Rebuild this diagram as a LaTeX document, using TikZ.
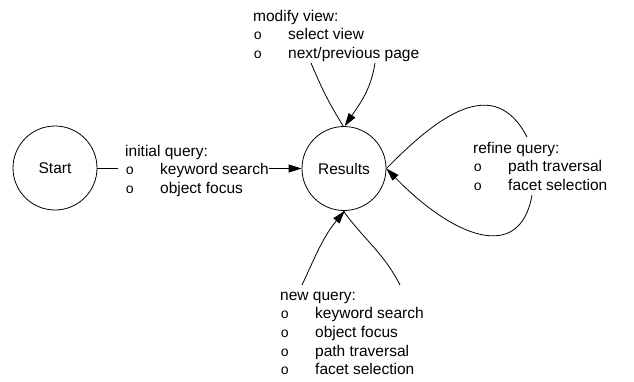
\documentclass[tikz,border=0pt]{standalone}
\usepackage{fontspec}
\setmainfont{Liberation Sans}
\newfontfamily\bulfont{Liberation Mono}
\usetikzlibrary{arrows.meta}
\newcommand{\bul}{\makebox[35pt][l]{\hspace{0.5pt}{\bulfont\fontsize{14}{18.7}\selectfont o}}}
\begin{document}
\begin{tikzpicture}[x=1pt,y=1pt,
  every node/.style={font=\fontsize{15.5}{18.7}\selectfont},
  state/.style={circle,draw,line width=0.8pt,minimum size=84pt,inner sep=0pt},
  lbl/.style={inner sep=0pt,anchor=base west},
  conn/.style={line width=0.8pt},
  arr/.style={conn,-{Triangle[length=13pt,width=8pt]}}]
\useasboundingbox (0,0) rectangle (634,-381);
\node[state] (start) at (55,-168) {Start};
\node[state] (res) at (344,-168.5) {Results};
\node[lbl] (initq) at (125,-156) {\begin{tabular}[t]{@{}l@{}}initial query:\\ \bul keyword search\\ \bul object focus\end{tabular}};
\node[lbl] (modq) at (253,-21) {\begin{tabular}[t]{@{}l@{}}modify view:\\ \bul select view\\ \bul next/previous page\end{tabular}};
\node[lbl] (refq) at (473,-153) {\begin{tabular}[t]{@{}l@{}}refine query:\\ \bul path traversal\\ \bul facet selection\end{tabular}};
\node[lbl] (newq) at (280,-300) {\begin{tabular}[t]{@{}l@{}}new query:\\ \bul keyword search\\ \bul object focus\\ \bul path traversal\\ \bul facet selection\end{tabular}};
\coordinate (m1) at (311,-63);
\coordinate (m2) at (375,-63);
\coordinate (r1) at (527,-137);
\coordinate (r2) at (532,-195);
\coordinate (n1) at (302,-285);
\coordinate (n2) at (400,-285);
% initial query
\draw[conn,shorten >=7pt] (start.east) -- (start.east -| initq.west);
\draw[arr] (initq.east |- res.west) -- (res.west);
% modify view
\draw[conn] (m1) to[out=-67,in=122] (res.91);
\draw[arr] (m2) to[out=-99,in=56] (res.89);
% refine query
\draw[conn] (res.east) .. controls (437,-117) and (494,-73) .. (r1);
\draw[arr] (r2) .. controls (520,-264) and (453,-237) .. (res.east);
% new query
\draw[arr] (n1) to[out=65,in=230] (res.271);
\draw[conn] (res.269) to[out=-54,in=117] (n2);
\end{tikzpicture}
\end{document}
